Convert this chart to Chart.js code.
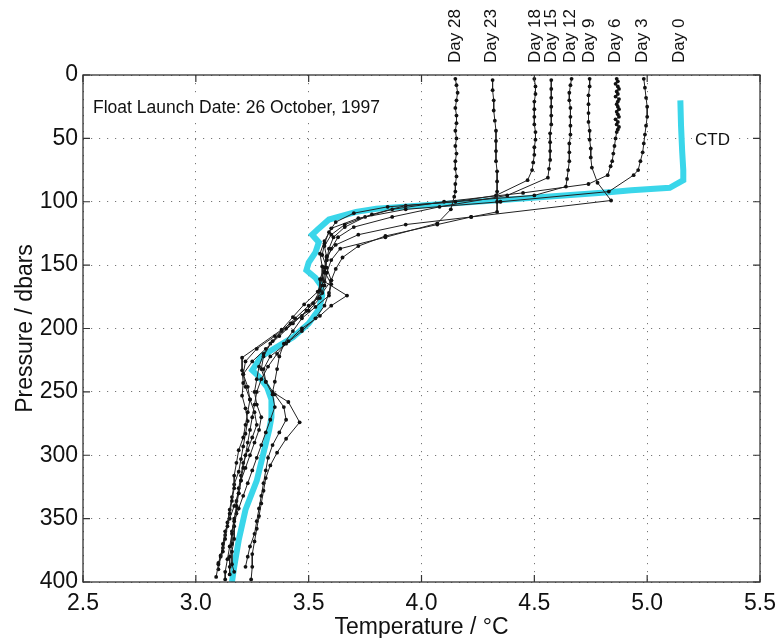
<!DOCTYPE html>
<html><head><meta charset="utf-8">
<script src="https://cdn.jsdelivr.net/npm/chart.js@4/dist/chart.umd.min.js"></script>
<style>html,body{margin:0;padding:0;background:#fff;}#wrap{width:784px;height:638px;}</style>
</head><body><div id="wrap"><canvas id="c" width="784" height="638"></canvas></div>
<script>
const FONT = '"Liberation Sans", Arial, Helvetica, sans-serif';
const xTicks = [2.5, 3.0, 3.5, 4.0, 4.5, 5.0, 5.5];
const yTicks = [0, 50, 100, 150, 200, 250, 300, 350, 400];
const xTitle = 'Temperature / °C';
const yTitle = 'Pressure / dbars';
const noteText = 'Float Launch Date: 26 October, 1997';
const ctdLabel = 'CTD';
const dayLabels = ['Day 28', 'Day 23', 'Day 18', 'Day 15', 'Day 12', 'Day 9', 'Day 6', 'Day 3', 'Day 0'];
const dayLabelT = [4.15, 4.31, 4.503, 4.573, 4.661, 4.745, 4.86, 4.979, 5.142];

const ctdT = [5.147, 5.15, 5.155, 5.16, 5.16, 5.10, 4.93, 4.83, 4.40, 4.00, 3.80, 3.71, 3.59, 3.545, 3.515, 3.545, 3.53, 3.50, 3.49, 3.53, 3.555, 3.56, 3.545, 3.50, 3.43, 3.355, 3.29, 3.25, 3.28, 3.315, 3.335, 3.335, 3.325, 3.30, 3.27, 3.22, 3.19, 3.17, 3.16];
const ctdP = [20, 40, 60, 75, 83, 89, 91, 92.5, 98, 103, 105.5, 108, 114, 121, 126, 132, 140, 148, 154, 160, 166, 174, 185, 196, 207, 215, 222, 233, 238, 246, 256, 270, 280, 298, 320, 343, 367, 388, 400];

const day28T = [4.15, 4.155, 4.16, 4.155, 4.15, 4.155, 4.155, 4.15, 4.155, 4.15, 4.155, 4.15, 4.15, 4.155, 4.15, 4.15, 4.145, 4.13, 4.07, 3.84, 3.64, 3.60, 3.58, 3.57, 3.55, 3.50, 3.42, 3.35, 3.27, 3.22, 3.21, 3.23, 3.24, 3.23, 3.22, 3.21, 3.19, 3.18, 3.17, 3.17, 3.16, 3.15, 3.14, 3.13, 3.12, 3.10, 3.09];
const day28P = [3, 8, 14, 20, 26, 32, 38, 44, 50, 56, 62, 68, 74, 80, 86, 92, 96, 106, 117, 128, 137, 146, 156, 166, 176, 186, 196, 206, 216, 226, 236, 246, 256, 266, 276, 286, 296, 306, 316, 326, 336, 346, 356, 366, 376, 386, 396];

const day23T = [4.315, 4.315, 4.32, 4.32, 4.325, 4.33, 4.33, 4.33, 4.33, 4.335, 4.335, 4.335, 4.335, 4.335, 4.22, 3.93, 3.72, 3.62, 3.58, 3.57, 3.55, 3.55, 3.52, 3.47, 3.40, 3.34, 3.30, 3.28, 3.27, 3.26, 3.27, 3.29, 3.28, 3.26, 3.24, 3.22, 3.20, 3.19, 3.17, 3.15, 3.13, 3.12, 3.11, 3.10];
const day23P = [4, 12, 20, 28, 36, 44, 52, 60, 68, 76, 84, 92, 100, 108, 112, 118, 126, 134, 143, 152, 161, 170, 180, 190, 200, 210, 220, 230, 240, 250, 260, 270, 280, 290, 300, 310, 320, 330, 340, 350, 360, 370, 380, 390];

const day18T = [4.50, 4.505, 4.505, 4.50, 4.50, 4.50, 4.50, 4.505, 4.505, 4.50, 4.50, 4.495, 4.49, 4.47, 4.33, 4.15, 3.85, 3.70, 3.62, 3.59, 3.57, 3.56, 3.58, 3.60, 3.56, 3.50, 3.44, 3.38, 3.33, 3.30, 3.29, 3.31, 3.34, 3.35, 3.33, 3.31, 3.29, 3.27, 3.25, 3.23, 3.21, 3.19, 3.17, 3.16, 3.15, 3.14, 3.13, 3.13];
const day18P = [3, 9, 15, 21, 27, 33, 39, 45, 51, 57, 63, 69, 75, 83, 95, 100, 104, 109, 116, 124, 133, 142, 152, 162, 172, 182, 192, 202, 212, 222, 232, 242, 252, 262, 272, 282, 292, 302, 312, 322, 332, 342, 352, 362, 372, 382, 392, 398];

const day15T = [4.575, 4.575, 4.575, 4.575, 4.575, 4.575, 4.57, 4.57, 4.57, 4.57, 4.565, 4.56, 4.38, 4.08, 3.87, 3.70, 3.63, 3.60, 3.58, 3.57, 3.60, 3.59, 3.53, 3.47, 3.43, 3.39, 3.37, 3.36, 3.35, 3.34, 3.41, 3.46, 3.40, 3.36, 3.33, 3.31, 3.30, 3.29, 3.28, 3.27, 3.26, 3.25, 3.25, 3.245];
const day15P = [4, 11, 18, 25, 32, 39, 46, 53, 60, 67, 74, 81, 95, 104, 112, 120, 128, 137, 146, 155, 165, 174, 183, 192, 202, 212, 222, 232, 242, 250, 258, 274, 287, 298, 308, 318, 328, 338, 348, 358, 368, 378, 388, 398];

const day12T = [4.665, 4.66, 4.655, 4.655, 4.66, 4.66, 4.66, 4.66, 4.655, 4.655, 4.655, 4.65, 4.645, 4.64, 4.50, 3.93, 3.78, 3.66, 3.60, 3.57, 3.58, 3.57, 3.67, 3.60, 3.55, 3.47, 3.41, 3.36, 3.32, 3.29, 3.27, 3.26, 3.25, 3.24, 3.23, 3.22, 3.21, 3.20, 3.19, 3.18, 3.17, 3.16, 3.16, 3.15, 3.15, 3.15];
const day12P = [3, 8, 14, 20, 26, 33, 40, 47, 54, 61, 68, 75, 82, 88, 95, 103, 110, 118, 126, 135, 144, 163, 174, 182, 190, 200, 210, 220, 230, 240, 250, 260, 270, 280, 290, 300, 310, 320, 330, 340, 350, 360, 370, 380, 388, 394];

const day9T = [4.745, 4.745, 4.74, 4.74, 4.74, 4.74, 4.745, 4.745, 4.75, 4.75, 4.755, 4.78, 4.84, 4.22, 4.07, 3.84, 3.72, 3.65, 3.62, 3.60, 3.59, 3.57, 3.53, 3.47, 3.40, 3.33, 3.30, 3.31, 3.35, 3.39, 3.40, 3.37, 3.34, 3.32, 3.31, 3.30, 3.29, 3.28, 3.27, 3.26, 3.24, 3.23, 3.22];
const day9P = [3, 9, 16, 23, 30, 37, 44, 51, 58, 65, 73, 85, 99, 112, 118, 127, 135, 144, 153, 162, 172, 182, 192, 202, 212, 222, 232, 242, 252, 262, 272, 282, 292, 302, 312, 322, 332, 342, 352, 362, 372, 380, 388];

const day6T = [4.865, 4.87, 4.86, 4.87, 4.875, 4.865, 4.87, 4.86, 4.875, 4.87, 4.865, 4.87, 4.875, 4.865, 4.87, 4.875, 4.86, 4.87, 4.865, 4.875, 4.87, 4.865, 4.86, 4.855, 4.85, 4.845, 4.838, 4.825, 4.74, 4.45, 4.10, 3.87, 3.75, 3.66, 3.61, 3.59, 3.58, 3.57, 3.56, 3.54, 3.49, 3.43, 3.37, 3.31, 3.25, 3.21, 3.22, 3.24, 3.26, 3.27, 3.25, 3.23, 3.21, 3.20, 3.19, 3.18, 3.18, 3.17, 3.17, 3.16, 3.16, 3.17];
const day6P = [3, 5, 7, 9, 11, 13, 15, 17, 19, 21, 23, 25, 27, 29, 31, 33, 35, 37, 39, 41, 43, 45, 50, 56, 62, 68, 72, 79, 86, 93, 100, 106, 112, 120, 128, 137, 146, 156, 166, 176, 186, 196, 206, 216, 226, 236, 246, 256, 266, 276, 286, 296, 306, 316, 326, 336, 346, 356, 366, 376, 386, 392];

const day3T = [4.985, 4.99, 4.995, 5.00, 5.00, 4.995, 4.99, 4.985, 4.98, 4.97, 4.96, 4.94, 4.83, 4.35, 3.93, 3.72, 3.60, 3.57, 3.55, 3.56, 3.56, 3.54, 3.48, 3.43, 3.38, 3.205, 3.205, 3.21, 3.205, 3.22, 3.23, 3.22, 3.21, 3.20, 3.19, 3.17, 3.16, 3.15, 3.14, 3.13, 3.12, 3.11, 3.10];
const day3P = [3, 10, 18, 25, 33, 40, 47, 54, 61, 68, 75, 79, 92, 100, 106, 113, 121, 131, 141, 151, 161, 171, 181, 191, 201, 223, 233, 243, 253, 263, 273, 283, 293, 303, 313, 323, 333, 343, 353, 363, 373, 379, 385];

const floats = [
  [day28T, day28P], [day23T, day23P], [day18T, day18P], [day15T, day15P],
  [day12T, day12P], [day9T, day9P], [day6T, day6P], [day3T, day3P]
];
const pts = (T, P) => T.map((t, i) => ({x: t, y: P[i]}));

const datasets = floats.map(([T, P]) => ({
  data: pts(T, P), showLine: true, borderColor: '#222', borderWidth: 1,
  pointRadius: 1.9, pointBackgroundColor: '#111', pointBorderWidth: 0, tension: 0, order: 0
}));
datasets.push({
  data: pts(ctdT, ctdP), showLine: true, borderColor: 'rgb(58,214,234)', borderWidth: 6,
  pointRadius: 0, tension: 0, order: 10, borderJoinStyle: 'miter', borderCapStyle: 'butt'
});

const decor = {
  id: 'decor',
  afterDraw(chart) {
    const {ctx, chartArea: a, scales: {x, y}} = chart;
    ctx.save();
    ctx.strokeStyle = '#333';
    ctx.lineWidth = 1.3;
    ctx.strokeRect(a.left, a.top, a.right - a.left, a.bottom - a.top);
    ctx.lineWidth = 1.2;
    const tl = 7;
    ctx.beginPath();
    xTicks.forEach(v => {
      const px = x.getPixelForValue(v);
      ctx.moveTo(px, a.bottom); ctx.lineTo(px, a.bottom - tl);
      ctx.moveTo(px, a.top); ctx.lineTo(px, a.top + tl);
    });
    yTicks.forEach(v => {
      const py = y.getPixelForValue(v);
      ctx.moveTo(a.left, py); ctx.lineTo(a.left + tl, py);
      ctx.moveTo(a.right, py); ctx.lineTo(a.right - tl, py);
    });
    ctx.stroke();
    ctx.fillStyle = '#111';
    ctx.font = '17px ' + FONT;
    ctx.textAlign = 'left';
    ctx.textBaseline = 'middle';
    dayLabels.forEach((s, i) => {
      const px = x.getPixelForValue(dayLabelT[i]);
      ctx.save();
      ctx.translate(px, a.top - 12);
      ctx.rotate(-Math.PI / 2);
      ctx.fillText(s, 0, 0);
      ctx.restore();
    });
    ctx.font = '17.5px ' + FONT;
    ctx.textBaseline = 'alphabetic';
    let w = ctx.measureText(noteText).width;
    ctx.fillStyle = '#fff';
    ctx.fillRect(a.left + 8, 93, w + 6, 26);
    ctx.fillStyle = '#111';
    ctx.fillText(noteText, a.left + 10, 113);
    ctx.font = '17px ' + FONT;
    w = ctx.measureText(ctdLabel).width;
    const cy = y.getPixelForValue(50);
    ctx.fillStyle = '#fff';
    ctx.fillRect(692, cy - 12, w + 8, 22);
    ctx.fillStyle = '#111';
    ctx.fillText(ctdLabel, 695, cy + 7);
    ctx.restore();
  }
};

new Chart(document.getElementById('c'), {
  type: 'scatter',
  data: {datasets},
  options: {
    responsive: false, animation: false, devicePixelRatio: 1,
    layout: {padding: {top: 75, right: 21, left: 0, bottom: 0}},
    plugins: {legend: {display: false}, tooltip: {enabled: false}},
    scales: {
      x: {
        type: 'linear', min: 2.5, max: 5.5,
        afterBuildTicks: s => { s.ticks = xTicks.map(v => ({value: v})); },
        afterFit: s => { s.height = 56; },
        ticks: {callback: v => v.toFixed(1), color: '#111', font: {family: FONT, size: 23}, padding: 8, maxRotation: 0},
        grid: {color: '#777', lineWidth: 1, drawTicks: false},
        border: {display: false, dash: [1.2, 6.8]},
        title: {display: true, text: xTitle, color: '#111', font: {family: FONT, size: 23, lineHeight: 0.9}, padding: {top: 0, bottom: 0}}
      },
      y: {
        type: 'linear', min: 0, max: 400, reverse: true,
        afterBuildTicks: s => { s.ticks = yTicks.map(v => ({value: v})); },
        afterFit: s => { s.width = 83; },
        ticks: {callback: v => String(v), color: '#111', font: {family: FONT, size: 23}, padding: 5},
        grid: {color: '#777', lineWidth: 1, drawTicks: false},
        border: {display: false, dash: [1.2, 6.8]},
        title: {display: true, text: yTitle, color: '#111', font: {family: FONT, size: 23}, padding: {top: 12, bottom: 0}}
      }
    }
  },
  plugins: [decor]
});
</script></body></html>
